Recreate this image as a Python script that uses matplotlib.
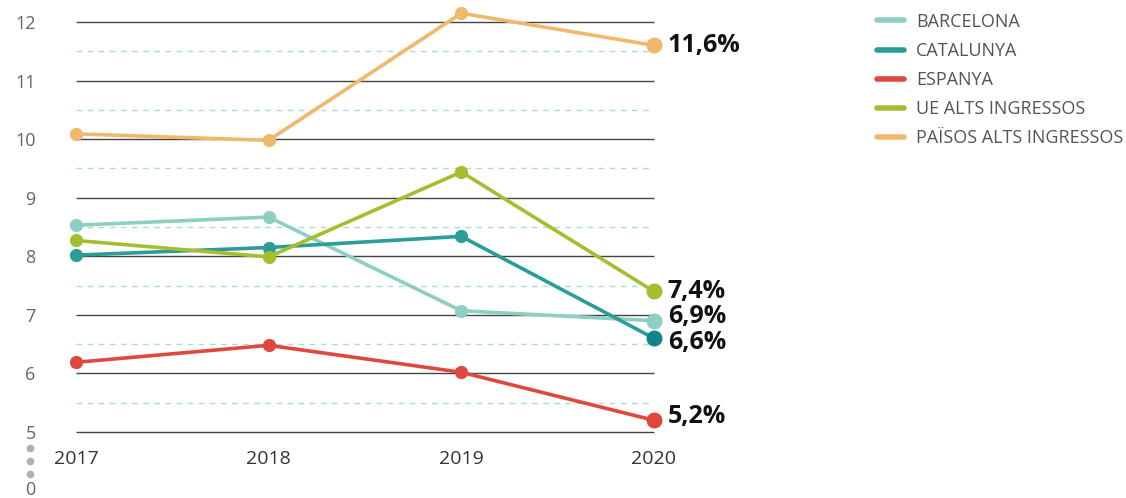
import matplotlib

matplotlib.use("Agg")
import matplotlib.pyplot as plt  # noqa: E402
from matplotlib.lines import Line2D  # noqa: E402

plt.rcParams["font.family"] = ["Open Sans", "DejaVu Sans"]

YEARS = [2017, 2018, 2019, 2020]
SERIES = ["BARCELONA", "CATALUNYA", "ESPANYA", "UE ALTS INGRESSOS",
          "PAÏSOS ALTS INGRESSOS"]
BARCELONA = [8.53, 8.67, 7.07, 6.9]
CATALUNYA = [8.02, 8.15, 8.34, 6.6]
ESPANYA = [6.19, 6.48, 6.02, 5.2]
UE = [8.27, 7.99, 9.44, 7.4]
PAISOS = [10.09, 9.98, 12.15, 11.6]
END_LABELS = ["6,9%", "6,6%", "5,2%", "7,4%", "11,6%"]
YTICKS = [5, 6, 7, 8, 9, 10, 11, 12]

COLORS = ["#8dcfc3", "#2a9d96", "#e0483f", "#a3bf2f", "#f0b86a"]
END_COLORS = ["#8dcfc3", "#10838c", "#e0483f", "#a3bf2f", "#f0b86a"]
LABEL_DY = [3, -3, 3, 0, 0]  # points, to keep end labels apart

fig = plt.figure(figsize=(11.26, 4.98), dpi=100)
ax = fig.add_axes([0.0675, 0.1325, 0.5133, 0.8586])
ax.set_xlim(2017, 2020)
ax.set_ylim(5, 12.3)

# grid: solid at integers, dashed teal at halves
ax.hlines(YTICKS, 2017, 2020, color="#444444", lw=1.0, zorder=1, clip_on=False)
ax.hlines([y + 0.5 for y in YTICKS[:-1]], 2017, 2020, color="#a8dcd5",
          lw=1.0, linestyles=(0, (4, 4)), zorder=1)

data = [BARCELONA, CATALUNYA, ESPANYA, UE, PAISOS]
for vals, col, ecol, lab, dy in zip(data, COLORS, END_COLORS, END_LABELS, LABEL_DY):
    ax.plot(YEARS, vals, color=col, lw=2.6, marker="o", ms=8.5, zorder=3,
            clip_on=False, solid_capstyle="round")
    ax.plot(YEARS[-1], vals[-1], "o", color=ecol, ms=10.5, zorder=4, clip_on=False)
    ax.annotate(lab, (YEARS[-1], vals[-1]), xytext=(10, dy),
                textcoords="offset points", va="center", ha="left",
                fontsize=18, fontweight="bold", color="#111111")

ax.set_yticks(YTICKS)
ax.set_xticks(YEARS)
ax.tick_params(axis="y", length=0, pad=29, labelsize=13, labelcolor="#666666")
ax.tick_params(axis="x", length=0, pad=13, labelsize=14, labelcolor="#333333")
for s in ax.spines.values():
    s.set_visible(False)

# axis break marker (three dots) and zero label
fig.add_artist(Line2D([30 / 1126] * 3, [1 - y / 498 for y in (448, 461, 474)],
                      transform=fig.transFigure, ls="none", marker="o", ms=4.5,
                      color="#b0b0b0"))
fig.text(30 / 1126, 1 - 490 / 498, "0", ha="center", va="center",
         fontsize=13, color="#666666")

handles = [Line2D([], [], color=c, lw=4, solid_capstyle="round") for c in COLORS]
fig.legend(handles, SERIES, loc="upper left", bbox_to_anchor=(0.768, 1.0),
           frameon=False, fontsize=13, labelcolor="#555555", handlelength=1.45,
           handletextpad=0.7, labelspacing=0.62, borderaxespad=0.3)

fig.savefig("out.png", dpi=100)
